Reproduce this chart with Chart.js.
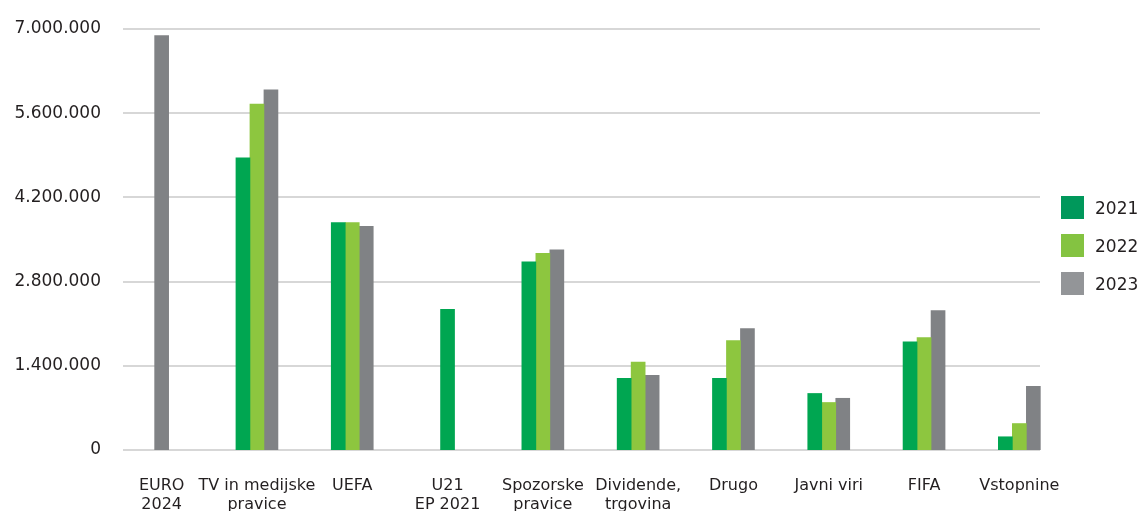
<!DOCTYPE html>
<html>
<head>
<meta charset="utf-8">
<script src="https://cdn.jsdelivr.net/npm/chart.js@4.4.1/dist/chart.umd.min.js"></script>
<style>
  html, body { margin: 0; padding: 0; background: #fff; }
  #wrap { position: relative; width: 1142px; height: 511px; overflow: hidden; }
  #legend { position: absolute; left: 1061px; top: 196px; font: 17px "DejaVu Sans", sans-serif; color: #231f20; }
  .item { display: flex; align-items: center; height: 23px; margin-bottom: 15px; }
  .box { width: 23px; height: 23px; margin-right: 11px; }
</style>
</head>
<body>
<div id="wrap">
  <canvas id="incomeChart" width="1142" height="511"></canvas>
  <div id="legend"></div>
</div>
<script>
const categories = [["EURO", "2024"], ["TV in medijske", "pravice"], "UEFA", ["U21", "EP 2021"],
  ["Spozorske", "pravice"], ["Dividende,", "trgovina"], "Drugo", "Javni viri", "FIFA", "Vstopnine"];
const years = ["2021", "2022", "2023"];
const values2021 = [null, 4860000, 3780000, 2340000, 3130000, 1190000, 1190000, 940000, 1800000, 220000];
const values2022 = [null, 5750000, 3780000, null, 3270000, 1460000, 1820000, 790000, 1870000, 440000];
const values2023 = [6890000, 5990000, 3720000, null, 3330000, 1240000, 2020000, 860000, 2320000, 1060000];
const yTicks = [0, 1400000, 2800000, 4200000, 5600000, 7000000];

const barColors = ["#00a651", "#8dc63f", "#808285"];
const legendColors = ["#00985b", "#84c341", "#939598"];
const textColor = "#231f20";

// horizontal grid lines, shorter than the category range
const shortGrid = {
  id: "shortGrid",
  beforeDatasetsDraw(chart) {
    const y = chart.scales.y;
    const c = chart.ctx;
    c.save();
    c.strokeStyle = "#d7d7d7";
    c.lineWidth = 2;
    y.ticks.forEach(t => {
      const py = Math.round(y.getPixelForValue(t.value));
      c.beginPath();
      c.moveTo(123, py);
      c.lineTo(1040, py);
      c.stroke();
    });
    c.restore();
  }
};

const seriesValues = [values2021, values2022, values2023];

new Chart(document.getElementById("incomeChart").getContext("2d"), {
  type: "bar",
  data: {
    labels: categories,
    datasets: years.map((yr, i) => ({
      label: yr,
      data: seriesValues[i],
      backgroundColor: barColors[i],
      barThickness: 14,
      skipNull: true
    }))
  },
  options: {
    responsive: false,
    animation: false,
    layout: { padding: { top: 29, right: 75, left: 0, bottom: 0 } },
    plugins: {
      legend: { display: false },
      tooltip: { enabled: false }
    },
    scales: {
      x: {
        grid: { display: false },
        border: { display: false },
        afterFit(scale) { scale.height = 61; },
        ticks: {
          color: textColor,
          font: { family: "DejaVu Sans", size: 16, lineHeight: 1.15 },
          padding: 19,
          maxRotation: 0,
          autoSkip: false
        }
      },
      y: {
        min: 0,
        max: 7000000,
        grid: { display: false, drawTicks: false },
        border: { display: false },
        afterFit(scale) { scale.width = 114; },
        afterBuildTicks(scale) { scale.ticks = yTicks.map(v => ({ value: v })); },
        ticks: {
          color: textColor,
          font: { family: "DejaVu Sans", size: 17 },
          padding: 13,
          callback: v => v.toLocaleString("de-DE")
        }
      }
    }
  },
  plugins: [shortGrid]
});

const legendEl = document.getElementById("legend");
years.forEach((yr, i) => {
  const item = document.createElement("div");
  item.className = "item";
  const box = document.createElement("div");
  box.className = "box";
  box.style.background = legendColors[i];
  const txt = document.createElement("span");
  txt.textContent = yr;
  item.appendChild(box);
  item.appendChild(txt);
  legendEl.appendChild(item);
});
</script>
</body>
</html>
